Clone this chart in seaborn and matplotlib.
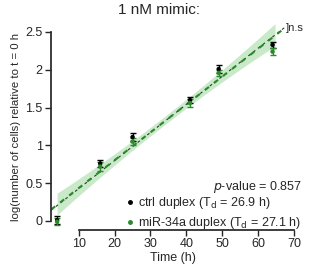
import numpy as np
import pandas as pd
import matplotlib
matplotlib.use("Agg")
import matplotlib.pyplot as plt
import seaborn as sns
from matplotlib.lines import Line2D

# data
time_h = [4, 16, 25, 41, 49, 64]
ctrl_mean = [0.01, 0.76, 1.11, 1.60, 2.01, 2.33]
ctrl_err = [0.05, 0.05, 0.05, 0.04, 0.05, 0.04]
mir_mean = [-0.01, 0.72, 1.05, 1.56, 1.96, 2.24]
mir_err = [0.05, 0.06, 0.05, 0.05, 0.04, 0.05]
ctrl_td = 26.9
mir_td = 27.1
ctrl_icpt = 0.055
mir_icpt = 0.065
p_value = 0.857

sns.set_theme(style="ticks")
plt.rcParams['font.family'] = ['Liberation Sans', 'DejaVu Sans']

fig = plt.figure(figsize=(3.12, 2.68), dpi=100)
ax = fig.add_axes([0.1635, 0.1418, 0.779, 0.767])

green = "#2a8a2a"
band = "#a6dca6"

# fit lines + band
tl = np.linspace(2.3, 67.5, 100)
yc = ctrl_icpt + tl / ctrl_td
yg = mir_icpt + tl / mir_td
tb = np.linspace(4, 64.7, 100)
half = 0.055 + 0.0001 * (tb - 34) ** 2
yb = mir_icpt + tb / mir_td
ax.fill_between(tb, yb - half + 0.01, yb + half + 0.01, color=band, alpha=0.6, lw=0)
sns.lineplot(x=tl, y=yc, ax=ax, color="#333333", lw=0.8, linestyle=(0, (2.5, 3)))
sns.lineplot(x=tl, y=yg, ax=ax, color=green, lw=1.5, linestyle=(0, (2.5, 3)))

df = pd.DataFrame({
    "t": time_h * 2,
    "y": ctrl_mean + mir_mean,
    "e": ctrl_err + mir_err,
    "g": ["ctrl"] * len(time_h) + ["mir"] * len(time_h),
})
for g, col in [("ctrl", "black"), ("mir", green)]:
    sub = df[df.g == g]
    ax.errorbar(sub.t, sub.y, yerr=sub.e, fmt="none", ecolor=col, elinewidth=1.0,
                capsize=2.5, capthick=1.0)
sns.scatterplot(data=df, x="t", y="y", hue="g", palette={"ctrl": "black", "mir": green},
                s=10, edgecolor="none", ax=ax, legend=False, zorder=5)

ax.text(67.8, 2.555, "]n.s", fontsize=8, va="center", ha="left")

ax.set_xlim(2.3, 70)
ax.set_ylim(-0.12, 2.6)
ax.spines["left"].set_bounds(0, 2.5)
ax.spines["bottom"].set_bounds(10, 70)
ax.spines["top"].set_visible(False)
ax.spines["right"].set_visible(False)
ax.set_xticks([10, 20, 30, 40, 50, 60, 70])
ax.set_yticks([0, 0.5, 1, 1.5, 2, 2.5])
ax.set_yticklabels(["0", "0.5", "1", "1.5", "2", "2.5"])
ax.tick_params(labelsize=9, length=4, width=1, pad=2)
ax.set_xlabel("Time (h)", fontsize=9, labelpad=1)
ax.set_ylabel("log(number of cells) relative to t = 0 h", fontsize=8.2, labelpad=3)
fig.suptitle("1 nM mimic:", fontsize=11, x=0.51, y=0.99)

ax.text(1.03, 0.209, "$\\it{p}$-value = %.3f" % p_value, transform=ax.transAxes,
        ha="right", va="center", fontsize=9)
handles = [
    Line2D([], [], marker="o", ls="none", color="black", markersize=2.5),
    Line2D([], [], marker="o", ls="none", color=green, markersize=2.5),
]
labels = ["ctrl duplex (T$_\\mathrm{d}$ = %.1f h)" % ctrl_td,
          "miR-34a duplex (T$_\\mathrm{d}$ = %.1f h)" % mir_td]
ax.legend(handles, labels, loc="lower right", bbox_to_anchor=(1.05, -0.03),
          frameon=False, fontsize=9, handletextpad=0.1, handlelength=1.0,
          labelspacing=0.3, borderaxespad=0)

fig.savefig("out.png", dpi=100)
